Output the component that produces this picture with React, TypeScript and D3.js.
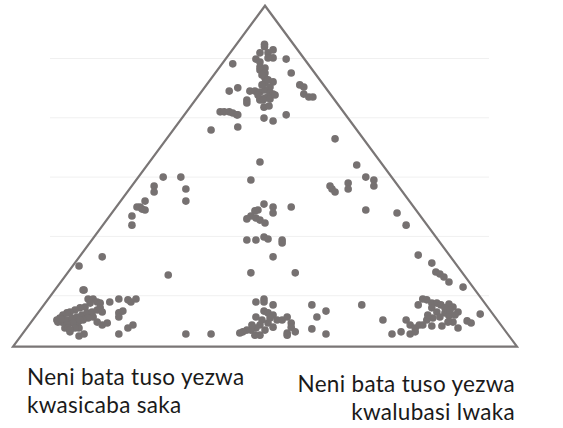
import React from 'react';
import * as d3 from 'd3';

// Triangle corners (x: 0-100, y: 0-120 value axis)
const triangleCorners: [number, number][] = [
  [0, 2.8],
  [50, 117.8],
  [100, 2.8],
];

// horizontal grid values
const gridValues = [20, 40, 60, 80, 100];

const labelLeft = ['Neni bata tuso yezwa', 'kwasicaba saka'];
const labelRight = ['Neni bata tuso yezwa', 'kwalubasi lwaka'];

// Points, grouped by area of the triangle
const topCluster: [number, number][] = [
  [49.9, 104.8], [49.9, 104.0], [49.0, 101.9], [50.6, 101.9], [51.6, 102.9],
  [48.2, 99.8], [49.0, 98.8], [51.6, 100.2], [50.6, 100.2], [49.0, 97.1],
  [50.0, 96.8], [49.0, 96.1], [50.0, 95.1], [50.0, 93.4], [50.0, 91.7],
  [51.6, 92.1], [51.0, 90.4], [47.0, 89.0], [48.0, 89.0], [49.0, 88.7],
  [50.0, 89.4], [51.0, 88.4], [51.6, 88.0], [49.0, 86.3], [50.0, 86.7],
  [50.6, 87.0], [49.0, 86.0], [49.6, 86.0], [49.8, 83.6], [50.8, 84.0],
  [49.8, 79.9], [51.6, 78.9], [54.2, 81.0], [54.2, 99.8], [55.2, 95.1],
  [56.9, 91.1], [57.7, 90.4], [57.7, 88.0], [58.7, 87.0], [59.5, 87.0],
  [43.6, 98.2], [42.9, 89.0], [44.6, 90.1], [46.4, 86.0], [46.4, 85.0],
  [41.1, 82.0], [41.9, 82.0], [42.9, 82.0], [43.6, 81.6], [44.4, 81.0],
  [44.6, 81.0], [39.3, 75.9], [44.6, 76.9], [49.4, 94.4], [50.6, 92.8],
  [49.4, 91.1], [48.6, 87.7], [51.0, 86.3], [52.0, 87.7],
];

const rightEdge: [number, number][] = [
  [63.9, 72.9], [68.2, 64.1], [70.0, 60.0], [71.6, 59.0], [71.6, 57.0],
  [62.9, 57.0], [63.3, 56.0], [63.9, 55.0], [66.5, 58.0], [66.5, 56.0],
  [70.0, 48.9], [76.2, 47.9], [78.0, 43.8], [80.4, 33.7], [83.1, 31.0],
  [83.9, 28.0], [84.7, 27.3], [85.5, 26.3], [86.5, 24.6], [89.3, 22.9],
];

const leftEdge: [number, number][] = [
  [29.8, 60.0], [33.3, 60.0], [28.0, 57.0], [28.0, 55.0], [34.3, 56.0],
  [34.3, 51.9], [26.2, 51.9], [25.2, 49.9], [24.6, 49.9], [26.2, 48.9],
  [25.6, 49.2], [23.6, 46.9], [23.6, 43.8], [17.7, 33.1], [13.1, 30.0],
  [30.8, 27.0], [13.9, 21.9],
];

const middle: [number, number][] = [
  [49.0, 65.1], [47.2, 59.0], [49.8, 50.9], [51.6, 49.9], [51.6, 47.9],
  [48.6, 48.9], [48.0, 48.6], [47.2, 46.9], [46.4, 45.9], [48.2, 46.2],
  [49.0, 45.5], [50.0, 44.5], [55.2, 49.9], [46.4, 38.8], [48.2, 38.8],
  [49.8, 39.8], [50.6, 39.1], [53.4, 38.8], [53.4, 37.8], [51.6, 33.1],
  [47.2, 27.7], [56.0, 27.7],
];

const bottomRight: [number, number][] = [
  [81.3, 18.9], [82.1, 18.6], [83.1, 17.5], [84.1, 17.5], [84.9, 16.9],
  [86.5, 17.2], [87.3, 16.2], [88.3, 14.5], [80.4, 16.9], [83.1, 15.9],
  [84.1, 14.5], [85.7, 14.2], [86.5, 13.2], [84.7, 12.8], [83.3, 12.5],
  [82.1, 11.8], [87.3, 11.1], [88.3, 9.1], [90.1, 11.5], [90.9, 10.8],
  [92.7, 13.8], [69.2, 16.9], [73.4, 11.8], [78.0, 11.8], [78.8, 10.1],
  [79.8, 9.1], [80.6, 10.1], [81.3, 10.1], [83.1, 9.8], [85.1, 9.8],
  [86.3, 11.1], [78.8, 7.1], [79.8, 7.8], [77.0, 7.8], [75.2, 7.1],
  [85.7, 15.9], [86.7, 15.2], [87.7, 13.5], [82.3, 13.5],
];

const bottomCenter: [number, number][] = [
  [48.2, 17.9], [49.8, 18.9], [49.8, 17.9], [51.6, 16.9], [48.2, 12.8],
  [49.8, 14.8], [50.6, 14.2], [51.6, 13.5], [53.4, 11.8], [54.4, 12.8],
  [55.2, 10.8], [55.2, 9.4], [54.4, 7.4], [56.0, 7.8], [54.4, 6.7],
  [50.6, 10.8], [49.0, 10.1], [48.2, 9.1], [47.2, 8.4], [46.4, 8.4],
  [45.6, 7.8], [49.0, 6.7], [48.0, 6.7], [50.0, 8.4], [51.6, 9.4],
  [52.4, 11.8], [49.4, 11.8], [51.0, 12.5], [47.4, 10.1], [45.0, 7.4],
  [59.3, 16.9], [62.1, 14.8], [60.3, 12.8], [59.3, 8.8], [62.1, 7.1],
  [34.3, 7.1], [39.3, 7.1],
];

const bottomLeft: [number, number][] = [
  [14.1, 21.9], [14.9, 18.9], [15.9, 18.9], [16.7, 17.9], [17.3, 17.5],
  [15.3, 17.5], [14.3, 16.2], [13.3, 15.9], [12.3, 15.2], [11.3, 14.5],
  [10.7, 14.2], [9.9, 13.5], [9.3, 12.5], [8.7, 11.8], [9.7, 11.1],
  [10.7, 11.8], [11.7, 12.5], [12.7, 12.8], [13.7, 13.5], [14.7, 14.2],
  [15.7, 14.5], [16.7, 15.2], [17.3, 15.9], [17.7, 14.5], [15.9, 12.8],
  [14.9, 12.5], [13.9, 11.8], [12.9, 11.1], [11.9, 10.8], [10.7, 10.1],
  [10.3, 9.1], [11.3, 7.8], [10.9, 9.1], [13.1, 9.1], [16.7, 11.1],
  [17.7, 10.1], [18.7, 10.8], [19.2, 17.9], [21.0, 18.9], [22.8, 18.6],
  [23.4, 17.9], [24.4, 18.9], [21.0, 14.2], [21.8, 14.8], [21.0, 12.8],
  [22.8, 9.1], [23.8, 10.1], [21.0, 7.1], [12.3, 9.1], [13.3, 11.8],
  [8.9, 11.1], [11.3, 8.4], [9.5, 12.1], [13.1, 6.4], [14.1, 7.1],
];

const allPoints = [
  ...topCluster, ...rightEdge, ...leftEdge, ...middle,
  ...bottomRight, ...bottomCenter, ...bottomLeft,
];

const W = 563;
const H = 428;

export default function App() {
  const x = d3.scaleLinear().domain([0, 100]).range([13, 517]);
  const y = d3.scaleLinear().domain([0, 120]).range([355, -0.8]);

  const tri = d3.line<[number, number]>()
    .x(d => x(d[0]))
    .y(d => y(d[1]))
    .curve(d3.curveLinearClosed)(triangleCorners) || '';

  const font = 'Lato, "Open Sans", sans-serif';
  const fill = '#767171';

  return (
    <div style={{ position: 'absolute', left: 0, top: 0 }}>
      <svg width={W} height={H} style={{ display: 'block', background: '#fff' }}>
        {gridValues.map(v => (
          <line key={v} x1={50} x2={489} y1={y(v)} y2={y(v)} stroke="#f0f0f0" strokeWidth={1} />
        ))}
        <path d={tri} fill="none" stroke="#7a7676" strokeWidth={2.2} strokeLinejoin="miter" />
        {allPoints.map((p, i) => (
          <circle key={i} cx={x(p[0])} cy={y(p[1])} r={3.8} fill={fill} />
        ))}
        <g fontFamily={font} fontSize={22.5} fill="#1a1a1a" letterSpacing={0.3}>
          {labelLeft.map((t, i) => (
            <text key={i} x={27} y={385 + i * 28}>{t}</text>
          ))}
          {labelRight.map((t, i) => (
            <text key={i} x={515} y={392 + i * 28} textAnchor="end">{t}</text>
          ))}
        </g>
      </svg>
    </div>
  );
}
